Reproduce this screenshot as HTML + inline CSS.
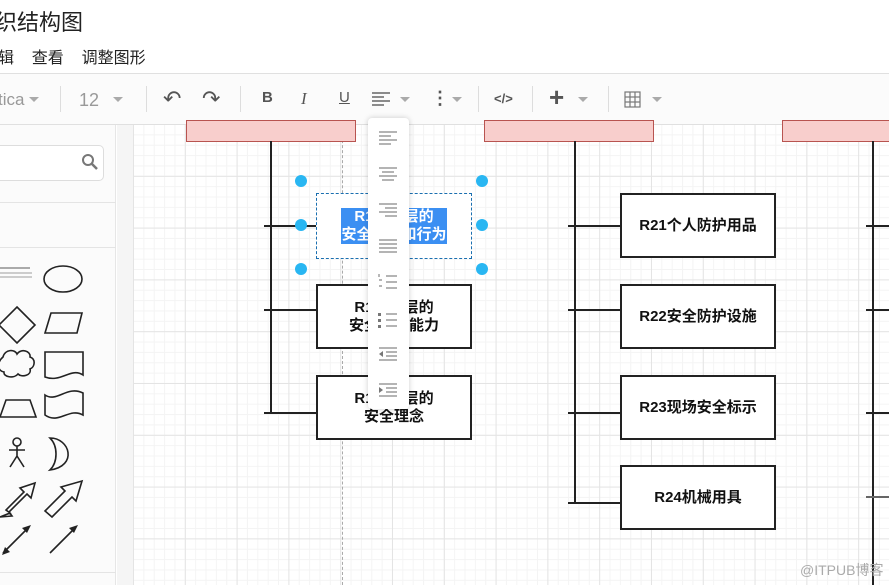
<!DOCTYPE html>
<html><head><meta charset="utf-8"><style>
*{margin:0;padding:0;box-sizing:border-box}
body{width:889px;height:585px;overflow:hidden;background:#fff;position:relative;font-family:"Liberation Sans","Noto Sans CJK SC",sans-serif}
.a{position:absolute}
.grid{left:133px;top:125px;width:756px;height:460px;background-color:#fff;
background-image:linear-gradient(#e4e4e4 1px,transparent 1px),linear-gradient(90deg,#e4e4e4 1px,transparent 1px),linear-gradient(#f4f4f4 1px,transparent 1px),linear-gradient(90deg,#f4f4f4 1px,transparent 1px);
background-size:51.8px 51.8px,51.8px 51.8px,10.36px 10.36px,10.36px 10.36px;background-position:0 -1px,0 0,0 -1px,0 0}
.box{position:absolute;border:2px solid #222;background:#fff;font-weight:bold;font-size:15px;color:#111;display:flex;align-items:center;justify-content:center;text-align:center;line-height:18px}
.pink{position:absolute;top:120px;height:22px;background:#f8cecc;border:1.5px solid #b85450}
.v{position:absolute;width:2px;background:#222}
.h{position:absolute;height:2px;background:#222}
.hd{position:absolute;width:12px;height:12px;border-radius:50%;background:#29b6f2}
.tb{position:absolute;color:#666;font-size:16px}
.sep{position:absolute;top:86px;width:1px;height:26px;background:#ddd}
.dd{position:absolute;top:97px;width:0;height:0;border-left:5px solid transparent;border-right:5px solid transparent;border-top:5px solid #aaa}
</style></head><body>
<div class="a" style="left:-27px;top:5px;font-size:22px;color:#222">组织结构图</div>
<div class="a" style="left:-18px;top:44px;font-size:16px;color:#222">编辑&nbsp;&nbsp;&nbsp;&nbsp;查看&nbsp;&nbsp;&nbsp;&nbsp;调整图形</div>
<div class="a" style="left:0;top:73px;width:889px;height:52px;background:#fbfbfb;border-top:1px solid #e0e0e0;border-bottom:1px solid #e0e0e0"></div>
<div class="tb" style="left:-2px;top:90px;color:#999;font-size:17px">tica</div><div class="dd" style="left:29px"></div>
<div class="sep" style="left:60px"></div>
<div class="tb" style="left:79px;top:90px;color:#999;font-size:18px">12</div><div class="dd" style="left:113px"></div>
<div class="sep" style="left:146px"></div>
<div class="tb" style="left:163px;top:86px;font-size:22px;color:#555">↶</div>
<div class="tb" style="left:202px;top:86px;font-size:22px;color:#555">↷</div>
<div class="sep" style="left:240px"></div>
<div class="tb" style="left:262px;top:89px;font-weight:bold;font-size:15px;color:#555">B</div>
<div class="tb" style="left:301px;top:89px;font-style:italic;font-family:'Liberation Serif';font-size:17px;color:#555">I</div>
<div class="tb" style="left:339px;top:89px;text-decoration:underline;font-size:15px;color:#555">U</div>
<svg class="a" style="left:372px;top:91px" width="20" height="16"><g stroke="#666" stroke-width="1.5"><line x1="0" y1="2" x2="18" y2="2"/><line x1="0" y1="6" x2="12" y2="6"/><line x1="0" y1="10" x2="18" y2="10"/><line x1="0" y1="14" x2="12" y2="14"/></g></svg>
<div class="dd" style="left:400px"></div>
<div class="tb" style="left:431px;top:88px;font-weight:bold;font-size:18px;color:#555">⋮</div><div class="dd" style="left:452px"></div>
<div class="sep" style="left:478px"></div>
<div class="tb" style="left:494px;top:91px;font-size:13px;color:#555;font-weight:bold">&lt;/&gt;</div>
<div class="sep" style="left:532px"></div>
<div class="tb" style="left:549px;top:82px;font-size:26px;font-weight:bold;color:#555">+</div><div class="dd" style="left:578px"></div>
<div class="sep" style="left:608px"></div>
<svg class="a" style="left:624px;top:91px" width="18" height="18"><g stroke="#777" fill="none" stroke-width="1.2"><rect x="1" y="1" width="15" height="15"/><line x1="6" y1="1" x2="6" y2="16"/><line x1="11" y1="1" x2="11" y2="16"/><line x1="1" y1="6" x2="16" y2="6"/><line x1="1" y1="11" x2="16" y2="11"/></g></svg>
<div class="dd" style="left:652px"></div>
<div class="a" style="left:0;top:125px;width:116px;height:460px;background:#fbfbfb;border-right:1px solid #e6e6e6"></div>
<div class="a" style="left:117px;top:125px;width:16px;height:460px;background:#f5f5f5"></div>
<div class="a" style="left:-6px;top:145px;width:110px;height:36px;background:#fff;border:1px solid #ddd;border-radius:5px"></div>
<svg class="a" style="left:81px;top:153px" width="18" height="18"><circle cx="7" cy="7" r="5" stroke="#777" stroke-width="2" fill="none"/><line x1="11" y1="11" x2="16" y2="16" stroke="#777" stroke-width="2.5"/></svg>
<div class="a" style="left:0;top:202px;width:116px;height:1px;background:#e4e4e4"></div>
<div class="a" style="left:0;top:247px;width:116px;height:1px;background:#e4e4e4"></div>
<div class="a" style="left:0;top:572px;width:116px;height:1px;background:#e4e4e4"></div>
<svg class="a" style="left:0;top:255px" width="116" height="320"><g stroke="#222" stroke-width="1.6" fill="none">
<ellipse cx="63" cy="24" rx="19" ry="13"/>
<polygon points="17,52 35,70 17,88 -1,70"/>
<polygon points="51,58 82,58 77,78 45,78"/>
<path d="M3,102c2-8 12-8 14-3 4-6 14-3 13 3 6 2 5 10 0 12 2 6-8 9-12 5-4 5-15 3-14-2-7-1-7-10-1-15z"/>
<path d="M45,97h38v23c-12-8-22 8-38 2z"/>
<polygon points="6,145 30,145 36,162 0,162"/>
<path d="M45,140c12 8 22-10 38-2v22c-14-8-24 10-38 0z"/>
<circle cx="17" cy="187" r="4"/><path d="M17,191v10M9,195h16M17,201l-7,11M17,201l7,11"/>
<path d="M50,183c20 0 28 28 0 32 8-8 8-24 0-32z"/>
<path d="M0,262l10-4-4-3 18-18-4-4 15-5-4 15-4-4-18 18 3 4z"/>
<path d="M45,256l20-20-4-4 21-6-6 20-4-4-20 20z"/>
<line x1="3" y1="298" x2="29" y2="272"/>
<line x1="50" y1="298" x2="76" y2="272"/></g>
<g fill="#222"><polygon points="2,300 5,292 10,297"/><polygon points="31,270 22,273 27,278"/><polygon points="78,270 69,273 74,278"/></g>
<rect x="0" y="12" width="30" height="2" fill="#aaa"/><rect x="0" y="17" width="32" height="2" fill="#ccc"/><rect x="0" y="21" width="32" height="2" fill="#ccc"/></svg>
<div class="a grid"></div>
<div class="a" style="left:342px;top:125px;width:0;height:460px;border-left:1px dashed #aaa"></div>
<div class="pink" style="left:186px;width:170px"></div>
<div class="pink" style="left:484px;width:170px"></div>
<div class="pink" style="left:782px;width:120px"></div>
<div class="v" style="left:270px;top:141px;height:273px"></div>
<div class="v" style="left:574px;top:141px;height:363px"></div>
<div class="v" style="left:872px;top:141px;height:444px"></div>
<div class="h" style="left:264px;top:225px;width:52px"></div>
<div class="h" style="left:264px;top:309px;width:52px"></div>
<div class="h" style="left:264px;top:412px;width:52px"></div>
<div class="h" style="left:568px;top:225px;width:52px"></div>
<div class="h" style="left:568px;top:309px;width:52px"></div>
<div class="h" style="left:568px;top:412px;width:52px"></div>
<div class="h" style="left:568px;top:502px;width:52px"></div>
<div class="h" style="left:866px;top:225px;width:23px"></div>
<div class="h" style="left:866px;top:309px;width:23px"></div>
<div class="h" style="left:866px;top:412px;width:23px"></div>
<div class="h" style="left:866px;top:496px;width:23px;background:#666"></div>
<div class="box" style="left:316px;top:193px;width:156px;height:66px;border:1.5px dashed #1a6fb0"><span style="background:#3b8ff2;color:#fff">R1安全层的<br>安全意识和行为</span></div>
<div class="box" style="left:316px;top:284px;width:156px;height:65px">R1安全层的<br>安全管理能力</div>
<div class="box" style="left:316px;top:375px;width:156px;height:65px">R1安全层的<br>安全理念</div>
<div class="box" style="left:620px;top:193px;width:156px;height:65px">R21个人防护用品</div>
<div class="box" style="left:620px;top:284px;width:156px;height:65px">R22安全防护设施</div>
<div class="box" style="left:620px;top:375px;width:156px;height:65px">R23现场安全标示</div>
<div class="box" style="left:620px;top:465px;width:156px;height:65px">R24机械用具</div>
<div class="hd" style="left:295px;top:175px"></div><div class="hd" style="left:476px;top:175px"></div>
<div class="hd" style="left:295px;top:219px"></div><div class="hd" style="left:476px;top:219px"></div>
<div class="hd" style="left:295px;top:263px"></div><div class="hd" style="left:476px;top:263px"></div>
<div class="a" style="left:368px;top:118px;width:41px;height:291px;background:#fff;border-radius:4px;box-shadow:0 0 6px rgba(0,0,0,.2)"></div>
<svg class="a" style="left:368px;top:118px" width="41" height="291"><g stroke="#888" stroke-width="1.2">
<path d="M11,14h18M11,18h12M11,22h18M11,26h12"/>
<path d="M11,50h18M14,54h12M11,58h18M14,62h12"/>
<path d="M11,86h18M17,90h12M11,94h18M17,98h12"/>
<path d="M11,122h18M11,126h18M11,130h18M11,134h18"/>
<path d="M18,158h11M18,164h11M18,170h11M11,156v3M11,162h3M11,168h3"/>
<path d="M18,196h11M18,202h11M18,208h11"/>
<path d="M11,230h18M18,234h11M18,238h11M11,242h18"/>
<path d="M11,266h18M18,270h11M18,274h11M11,278h18"/></g>
<g fill="#777"><rect x="10" y="195" width="3" height="3"/><rect x="10" y="201" width="3" height="3"/><rect x="10" y="207" width="3" height="3"/>
<polygon points="15,233 11,236 15,239"/><polygon points="11,269 15,272 11,275"/></g></svg>
<div class="a" style="left:800px;top:560px;font-size:14px;color:#aaa">@ITPUB博客</div>
</body></html>
